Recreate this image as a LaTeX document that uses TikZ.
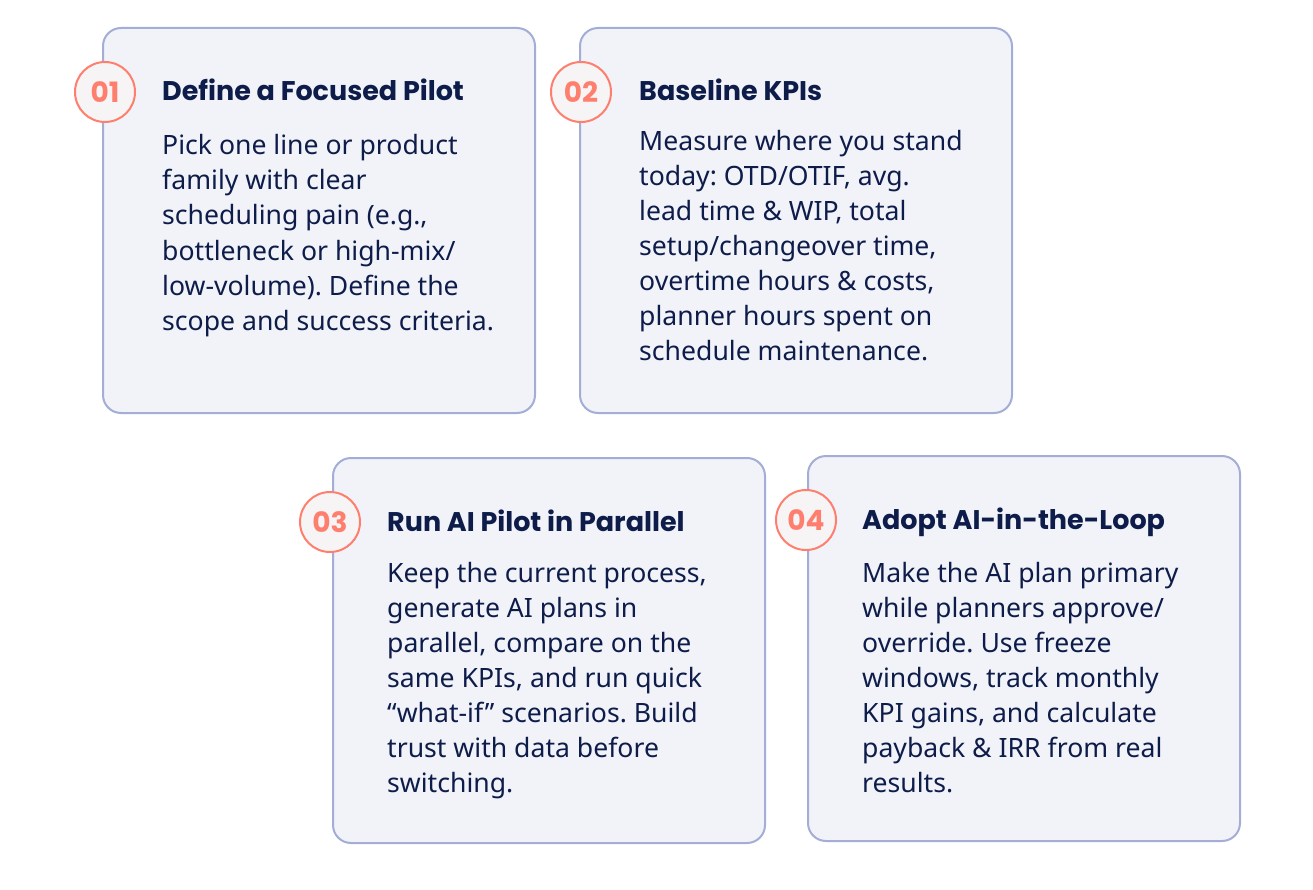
\documentclass[tikz,border=0pt]{standalone}
\usepackage{fontspec}
\setmainfont{Noto Sans}
\newfontfamily\headfont{Poppins}
\newfontfamily\badgefont{Poppins}
\usepackage{xcolor}
\definecolor{navy}{HTML}{0E1C4A}
\definecolor{cardfill}{HTML}{F1F3F9}
\definecolor{cardline}{HTML}{A3ADD6}
\definecolor{coral}{HTML}{FF7F6E}
\definecolor{badgefill}{HTML}{F6F4F4}
\frenchspacing

\begin{document}
\begin{tikzpicture}[x=1pt,y=-1pt,line cap=round,line join=round,
  card/.style={draw=cardline,fill=cardfill,line width=2pt,rounded corners=18pt,minimum width=432pt,minimum height=385pt,anchor=north west,inner sep=0pt},
  badge/.style={circle,draw=coral,fill=badgefill,line width=2pt,minimum size=60pt,inner sep=0pt,text=coral,font=\badgefont\bfseries\fontsize{28}{28}\selectfont},
  cardtitle/.style={anchor=base west,inner sep=0pt,text=navy,font=\headfont\bfseries\fontsize{27}{30}\selectfont},
  cardbody/.style={anchor=base west,inner sep=0pt,align=left,text=navy,font=\fontsize{26.6}{35}\selectfont}]
\useasboundingbox (0,0) rectangle (1313,890);
\node[card] (card1) at (102,27) {};
\node[card] (card2) at (579,27) {};
\node[card] (card3) at (332,457) {};
\node[card] (card4) at (807,455) {};
\node[badge] (badge1) at (105,92) {01};
\node[badge] (badge2) at (581,92) {02};
\node[badge] (badge3) at (330,522) {03};
\node[badge] (badge4) at (806,520) {04};
\node[cardtitle] (title1) at (162,101) {Define a Focused Pilot};
\node[cardtitle] (title2) at (639,101) {Baseline KPIs};
\node[cardtitle] (title3) at (387,531) {Run AI Pilot in Parallel};
\node[cardtitle] (title4) at (862,529) {Adopt AI-in-the-Loop};
% body nodes: base anchor sits on the last line
\node[cardbody] (body1) at (162,330) {Pick one line or product\\family with clear\\scheduling pain (e.g.,\\bottleneck or high-mix/\\low-volume). Define the\\scope and success criteria.};
\node[cardbody] (body2) at (639,360) {Measure where you stand\\today: OTD/OTIF, avg.\\lead time \& WIP, total\\setup/changeover time,\\overtime hours \& costs,\\planner hours spent on\\schedule maintenance.};
\node[cardbody] (body3) at (387,792) {Keep the current process,\\generate AI plans in\\parallel, compare on the\\same KPIs, and run quick\\“what-if” scenarios. Build\\trust with data before\\switching.};
\node[cardbody] (body4) at (862,792) {Make the AI plan primary\\while planners approve/\\override. Use freeze\\windows, track monthly\\KPI gains, and calculate\\payback \& IRR from real\\results.};
\end{tikzpicture}
\end{document}
